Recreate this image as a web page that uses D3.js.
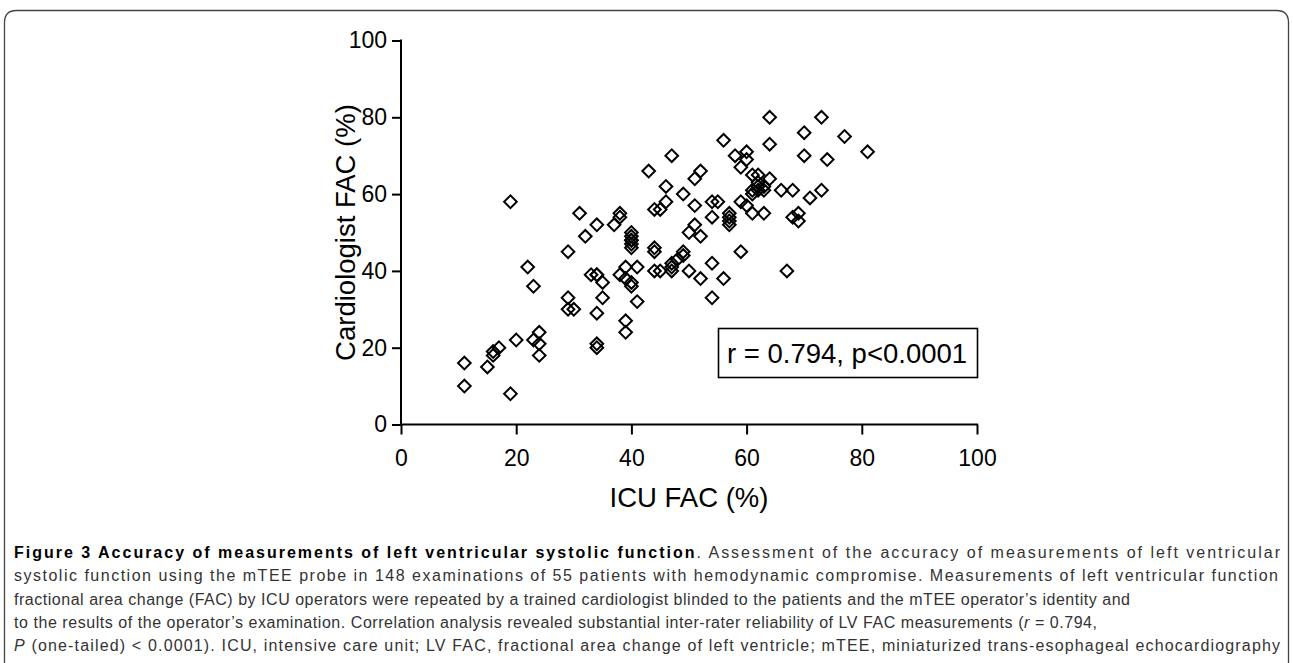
<!DOCTYPE html>
<html>
<head>
<meta charset="utf-8">
<script src="https://cdn.jsdelivr.net/npm/d3@7"></script>
<style>
  body { margin: 0; background: #fff; }
  svg { display: block; }
</style>
</head>
<body>
<script>
// ICU FAC (x) and cardiologist FAC (y)
const icuFac = [11, 11, 15, 16, 16, 17, 19, 20, 23, 24, 24, 24, 22, 23, 19, 29, 29, 29, 30, 31,
  32, 34, 33, 34, 34, 35, 35, 34, 34, 34, 37, 38, 38, 38, 39, 40, 40, 39, 41, 41,
  39, 39, 40, 40, 40, 40, 40, 40, 43, 47, 46, 46, 44, 45, 44, 44, 44, 45, 47, 47,
  48, 47, 49, 49, 49, 50, 50, 51, 52, 51, 51, 52, 52, 54, 55, 54, 54, 54, 56, 56,
  57, 57, 57, 57, 58, 59, 59, 59, 60, 60, 60, 61, 62, 61, 63, 62, 62, 63, 63, 61,
  62, 61, 64, 64, 64, 66, 67, 68, 68, 69, 69, 70, 70, 71, 73, 73, 74, 77, 81];
const cardFac = [16, 10, 15, 19, 18, 20, 8, 22, 22, 21, 24, 18, 41, 36, 58, 45, 33, 30, 30, 55,
  49, 52, 39, 39, 39, 37, 33, 29, 21, 20, 52, 55, 54, 39, 38, 37, 36, 41, 41, 32,
  27, 24, 50, 49, 48, 48, 47, 46, 66, 70, 62, 58, 56, 56, 46, 45, 40, 40, 42, 41,
  43, 40, 45, 44, 60, 50, 40, 64, 66, 57, 52, 49, 38, 58, 58, 54, 42, 33, 74, 38,
  55, 54, 53, 52, 70, 67, 58, 45, 71, 69, 57, 65, 65, 55, 55, 62, 61, 61, 62, 60,
  63, 61, 64, 80, 73, 61, 40, 61, 54, 55, 53, 76, 70, 59, 80, 61, 69, 75, 71];
const xTicks = [0, 20, 40, 60, 80, 100];
const yTicks = [0, 20, 40, 60, 80, 100];
const statText = "r = 0.794, p<0.0001";

const captionLines = [
  [{t: "Figure 3 Accuracy of measurements of left ventricular systolic function", b: true},
   {t: ". Assessment of the accuracy of measurements of left ventricular"}],
  [{t: "systolic function using the mTEE probe in 148 examinations of 55 patients with hemodynamic compromise. Measurements of left ventricular function"}],
  [{t: "fractional area change (FAC) by ICU operators were repeated by a trained cardiologist blinded to the patients and the mTEE operator\u2019s identity and"}],
  [{t: "to the results of the operator\u2019s examination. Correlation analysis revealed substantial inter-rater reliability of LV FAC measurements ("},
   {t: "r", i: true}, {t: " = 0.794,"}],
  [{t: "P", i: true},
   {t: " (one-tailed) < 0.0001). ICU, intensive care unit; LV FAC, fractional area change of left ventricle; mTEE, miniaturized trans-esophageal echocardiography"}]
];
const captionEnds = [1280, 1278, 1130, 1097, 1280];

const W = 1293, H = 663;
const svg = d3.select("body").append("svg").attr("width", W).attr("height", H);

// outer frame, open at the bottom
svg.append("path")
  .attr("d", `M4.5,${H + 5} L4.5,22.5 Q4.5,10.5 16.5,10.5 L1276.5,10.5 Q1288.5,10.5 1288.5,22.5 L1288.5,${H + 5}`)
  .attr("fill", "none").attr("stroke", "#444").attr("stroke-width", 1.3);

const x = d3.scaleLinear().domain([0, 100]).range([401, 977]);
const y = d3.scaleLinear().domain([0, 100]).range([424.5, 40.5]);

const font = "Arial, 'Liberation Sans', sans-serif";

const xAxis = svg.append("g").attr("transform", `translate(0,${y(0)})`)
  .call(d3.axisBottom(x).tickValues(xTicks).tickSize(10).tickPadding(15).tickSizeOuter(0));
const yAxis = svg.append("g").attr("transform", `translate(${x(0)},0)`)
  .call(d3.axisLeft(y).tickValues(yTicks).tickSize(9).tickPadding(5).tickSizeOuter(0));

[xAxis, yAxis].forEach(g => {
  g.select(".domain").attr("stroke", "#000").attr("stroke-width", 2);
  g.selectAll(".tick line").attr("stroke", "#000").attr("stroke-width", 2);
  g.selectAll(".tick text").attr("fill", "#000")
    .style("font-family", font).style("font-size", "23px");
});
// extend axis lines to cover the corner
xAxis.select(".domain").attr("d", `M${x(0) - 1},0H${x(100) + 1}`);
yAxis.select(".domain").attr("d", `M0,${y(100) - 1}V${y(0) + 1}`);

// axis titles
svg.append("text")
  .attr("x", (x(0) + x(100)) / 2).attr("y", 507)
  .attr("text-anchor", "middle")
  .style("font-family", font).style("font-size", "27.5px")
  .text("ICU FAC (%)");

svg.append("text")
  .attr("transform", `translate(355,${(y(0) + y(100)) / 2}) rotate(-90)`)
  .attr("text-anchor", "middle")
  .style("font-family", font).style("font-size", "27.5px")
  .text("Cardiologist FAC (%)");

// points
const diamond = d3.symbol().type(d3.symbolSquare).size(80);
svg.append("g").selectAll("path")
  .data(icuFac.map((v, i) => [v, cardFac[i]]))
  .join("path")
  .attr("d", diamond)
  .attr("transform", d => `translate(${x(d[0])},${y(d[1])}) rotate(45)`)
  .attr("fill", "none").attr("stroke", "#000").attr("stroke-width", 2);

// correlation box
svg.append("rect")
  .attr("x", 718.5).attr("y", 328.5).attr("width", 259).attr("height", 49)
  .attr("fill", "#fff").attr("stroke", "#000").attr("stroke-width", 1.6);
svg.append("text")
  .attr("x", 727).attr("y", 363)
  .style("font-family", font).style("font-size", "27.5px")
  .text(statText);

// caption
const capFont = "'Liberation Sans', Arial, sans-serif";
captionLines.forEach((parts, li) => {
  const t = svg.append("text")
    .attr("x", 14).attr("y", 558 + li * 23.3)
    .attr("textLength", captionEnds[li] - 14)
    .attr("lengthAdjust", "spacing")
    .style("font-family", capFont).style("font-size", "16px").attr("fill", "#222");
  parts.forEach(p => {
    t.append("tspan")
      .style("font-weight", p.b ? "bold" : "normal")
      .style("font-style", p.i ? "italic" : "normal")
      .attr("fill", p.b ? "#000" : "#333")
      .text(p.t);
  });
});
</script>
</body>
</html>
